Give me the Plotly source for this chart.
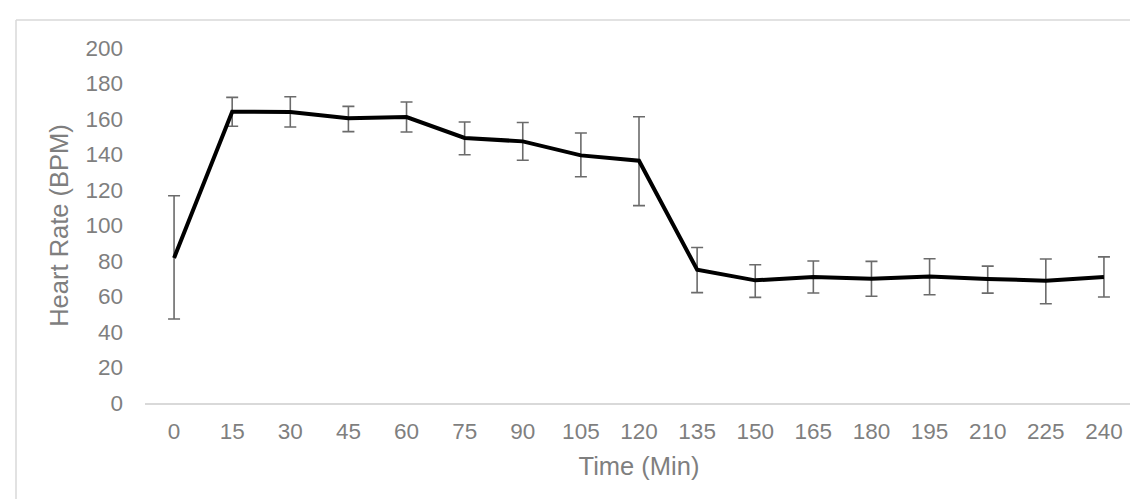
import plotly.graph_objects as go

time_min = ["0", "15", "30", "45", "60", "75", "90", "105", "120", "135",
            "150", "165", "180", "195", "210", "225", "240"]
heart_rate = [81.7, 164.1, 164.0, 160.4, 161.1, 149.3, 147.4, 139.5, 136.5, 75.1,
              69.1, 71.0, 70.0, 71.2, 69.9, 68.9, 71.0]
err_upper = [116.8, 172.2, 172.5, 167.1, 169.6, 158.3, 158.0, 152.1, 161.3, 87.6,
             77.9, 80.0, 79.8, 81.3, 77.1, 81.1, 82.3]
err_lower = [47.3, 155.9, 155.5, 152.9, 152.7, 139.9, 136.8, 127.5, 111.2, 62.2,
             59.5, 62.0, 60.1, 61.0, 61.9, 55.9, 59.7]
y_ticks = [0, 20, 40, 60, 80, 100, 120, 140, 160, 180, 200]

plus = [u - v for u, v in zip(err_upper, heart_rate)]
minus = [v - l for v, l in zip(heart_rate, err_lower)]

FONT = "Liberation Sans, Arial, sans-serif"
GRAY = "#7f7f7f"
TICK = 22.5
TITLE = 25.5

fig = go.Figure()
fig.add_trace(go.Scatter(
    x=time_min, y=heart_rate, mode="lines",
    line=dict(color="#000000", width=4),
    error_y=dict(type="data", symmetric=False, array=plus, arrayminus=minus,
                 color="#6b6b6b", thickness=1.6, width=6),
    showlegend=False,
))

# plot area: x 137..1125 px, y 40..395 px
px = lambda v: (v - 137) / 988
py = lambda v: (395 - v) / 355

fig.update_layout(
    width=1138, height=499,
    margin=dict(l=137, r=13, t=40, b=104),
    paper_bgcolor="white", plot_bgcolor="white",
    font=dict(family=FONT, color=GRAY, size=TICK),
    xaxis=dict(
        type="category", range=[-0.5, 16.5],
        showgrid=False, zeroline=False,
        showline=True, linecolor="#d9d9d9", linewidth=1.5,
        ticks="", ticklabelstandoff=7,
        tickfont=dict(size=TICK, color=GRAY, family=FONT),
        title=dict(text="Time (Min)", font=dict(size=TITLE, color=GRAY, family=FONT), standoff=14),
    ),
    yaxis=dict(
        range=[0, 200], tickvals=y_ticks,
        showgrid=False, zeroline=False, showline=False,
        ticks="", ticklabelstandoff=21,
        tickfont=dict(size=TICK, color=GRAY, family=FONT),
        title=dict(text="Heart Rate (BPM)", font=dict(size=TITLE, color=GRAY, family=FONT), standoff=9),
    ),
    shapes=[
        dict(type="line", xref="paper", yref="paper",
             x0=px(8), x1=px(8), y0=py(12), y1=py(505),
             line=dict(color="#d9d9d9", width=1.5), layer="below"),
        dict(type="line", xref="paper", yref="paper",
             x0=px(8), x1=px(1145), y0=py(12), y1=py(12),
             line=dict(color="#d9d9d9", width=1.5), layer="below"),
    ],
)

fig.write_html("out.html")
